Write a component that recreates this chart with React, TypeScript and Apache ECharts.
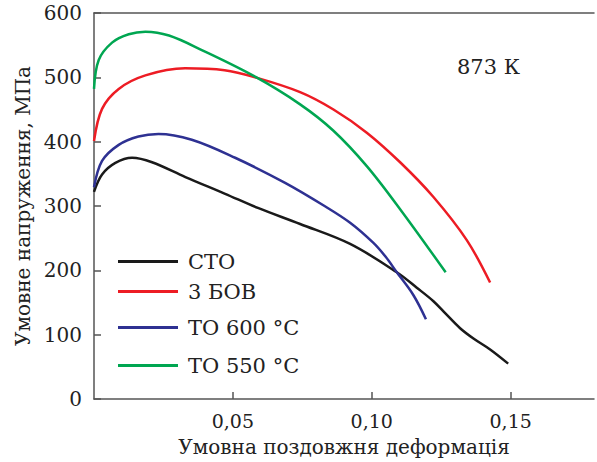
import React, { useEffect, useRef } from "react";
import * as echarts from "echarts";

const seriesNames = ["СТО", "3 БОВ", "ТО 600 °С", "ТО 550 °С"];
const seriesColors = ["#1a1a1a", "#ed1c24", "#2e3192", "#00a651"];

const stoX = [0, 0.0029, 0.0077, 0.0137, 0.0209, 0.0329, 0.0472, 0.059, 0.0742, 0.0922, 0.109, 0.1162, 0.1222, 0.1265, 0.1318, 0.1366, 0.1426, 0.1491];
const stoY = [322, 349, 367, 375, 368, 345, 319, 297, 272, 241, 197, 173, 152, 133, 110, 94, 77, 55];

const bovX = [0, 0.0029, 0.0089, 0.0185, 0.0328, 0.047, 0.058, 0.0742, 0.0862, 0.0982, 0.1102, 0.1222, 0.1342, 0.1426];
const bovY = [401, 451, 482, 503, 514, 511, 500, 477, 450, 414, 368, 314, 247, 181];

const to600X = [0, 0.0029, 0.0089, 0.016, 0.0232, 0.0352, 0.0508, 0.0688, 0.083, 0.0922, 0.1005, 0.105, 0.109, 0.1149, 0.1195];
const to600Y = [329, 370, 395, 408, 412, 403, 375, 336, 300, 274, 243, 221, 197, 162, 124];

const to550X = [0, 0.0017, 0.0065, 0.0125, 0.0185, 0.027, 0.039, 0.058, 0.0742, 0.0862, 0.0982, 0.1102, 0.1266];
const to550Y = [482, 527, 554, 567, 571, 565, 542, 501, 458, 417, 362, 295, 197];

const xTicks = [0.05, 0.1, 0.15];
const yTicks = [0, 100, 200, 300, 400, 500, 600];

const legendCenters = [262, 292, 328, 366];

const FONT = "DejaVu Serif";

export default function App() {
  const ref = useRef<HTMLDivElement>(null);
  useEffect(() => {
    document.body.style.margin = "0";
    const chart = echarts.init(ref.current!, undefined, { renderer: "svg" });
    const xs = [stoX, bovX, to600X, to550X];
    const ys = [stoY, bovY, to600Y, to550Y];
    const axisLine = { show: true, lineStyle: { color: "#555", width: 1.5 } };
    chart.setOption({
      animation: false,
      grid: { left: 94, top: 13, right: 3, bottom: 57 },
      xAxis: [
        {
          type: "value",
          min: 0,
          max: 0.18,
          interval: 0.05,
          axisLine,
          axisTick: { show: true, inside: true, length: 7, lineStyle: { color: "#555", width: 1.5 } },
          splitLine: { show: false },
          axisLabel: {
            showMinLabel: false,
            showMaxLabel: false,
            margin: 12,
            color: "#222",
            fontFamily: FONT,
            fontSize: 19,
            formatter: (v: number) => (xTicks.includes(Math.round(v * 100) / 100) ? v.toFixed(2).replace(".", ",") : ""),
          },
          name: "Умовна поздовжня деформація",
          nameLocation: "middle",
          nameGap: 38,
          nameTextStyle: { color: "#222", fontFamily: FONT, fontSize: 20 },
        },
        {
          type: "value",
          position: "top",
          min: 0,
          max: 0.18,
          interval: 0.05,
          axisLine,
          axisTick: { show: false },
          axisLabel: { show: false },
          splitLine: { show: false },
        },
      ],
      yAxis: {
        type: "value",
        min: yTicks[0],
        max: yTicks[yTicks.length - 1],
        interval: 100,
        axisLine,
        axisTick: { show: true, inside: true, length: 7, lineStyle: { color: "#555", width: 1.5 } },
        splitLine: { show: false },
        axisLabel: { margin: 12, color: "#222", fontFamily: FONT, fontSize: 20 },
        name: "Умовне напруження, МПа",
        nameLocation: "middle",
        nameGap: 58,
        nameTextStyle: { color: "#222", fontFamily: FONT, fontSize: 20 },
      },
      legend: seriesNames.map((n, i) => ({
        data: [n],
        left: 113,
        top: legendCenters[i] - 16,
        icon: "rect",
        itemWidth: 60,
        itemHeight: 3,
        textStyle: { color: "#222", fontFamily: FONT, fontSize: 21, padding: [0, 0, 0, 5] },
      })),
      graphic: [
        {
          type: "text",
          left: 457,
          top: 56,
          style: { text: "873 К", fill: "#222", font: `21px "${FONT}"` },
        },
      ],
      series: seriesNames.map((n, i) => ({
        name: n,
        type: "line",
        data: xs[i].map((x, j) => [x, ys[i][j]]),
        smooth: 0.35,
        showSymbol: false,
        symbol: "none",
        lineStyle: { color: seriesColors[i], width: 2.5 },
        itemStyle: { color: seriesColors[i] },
      })),
    });
    return () => chart.dispose();
  }, []);
  return <div ref={ref} style={{ width: 597, height: 462 }} />;
}
